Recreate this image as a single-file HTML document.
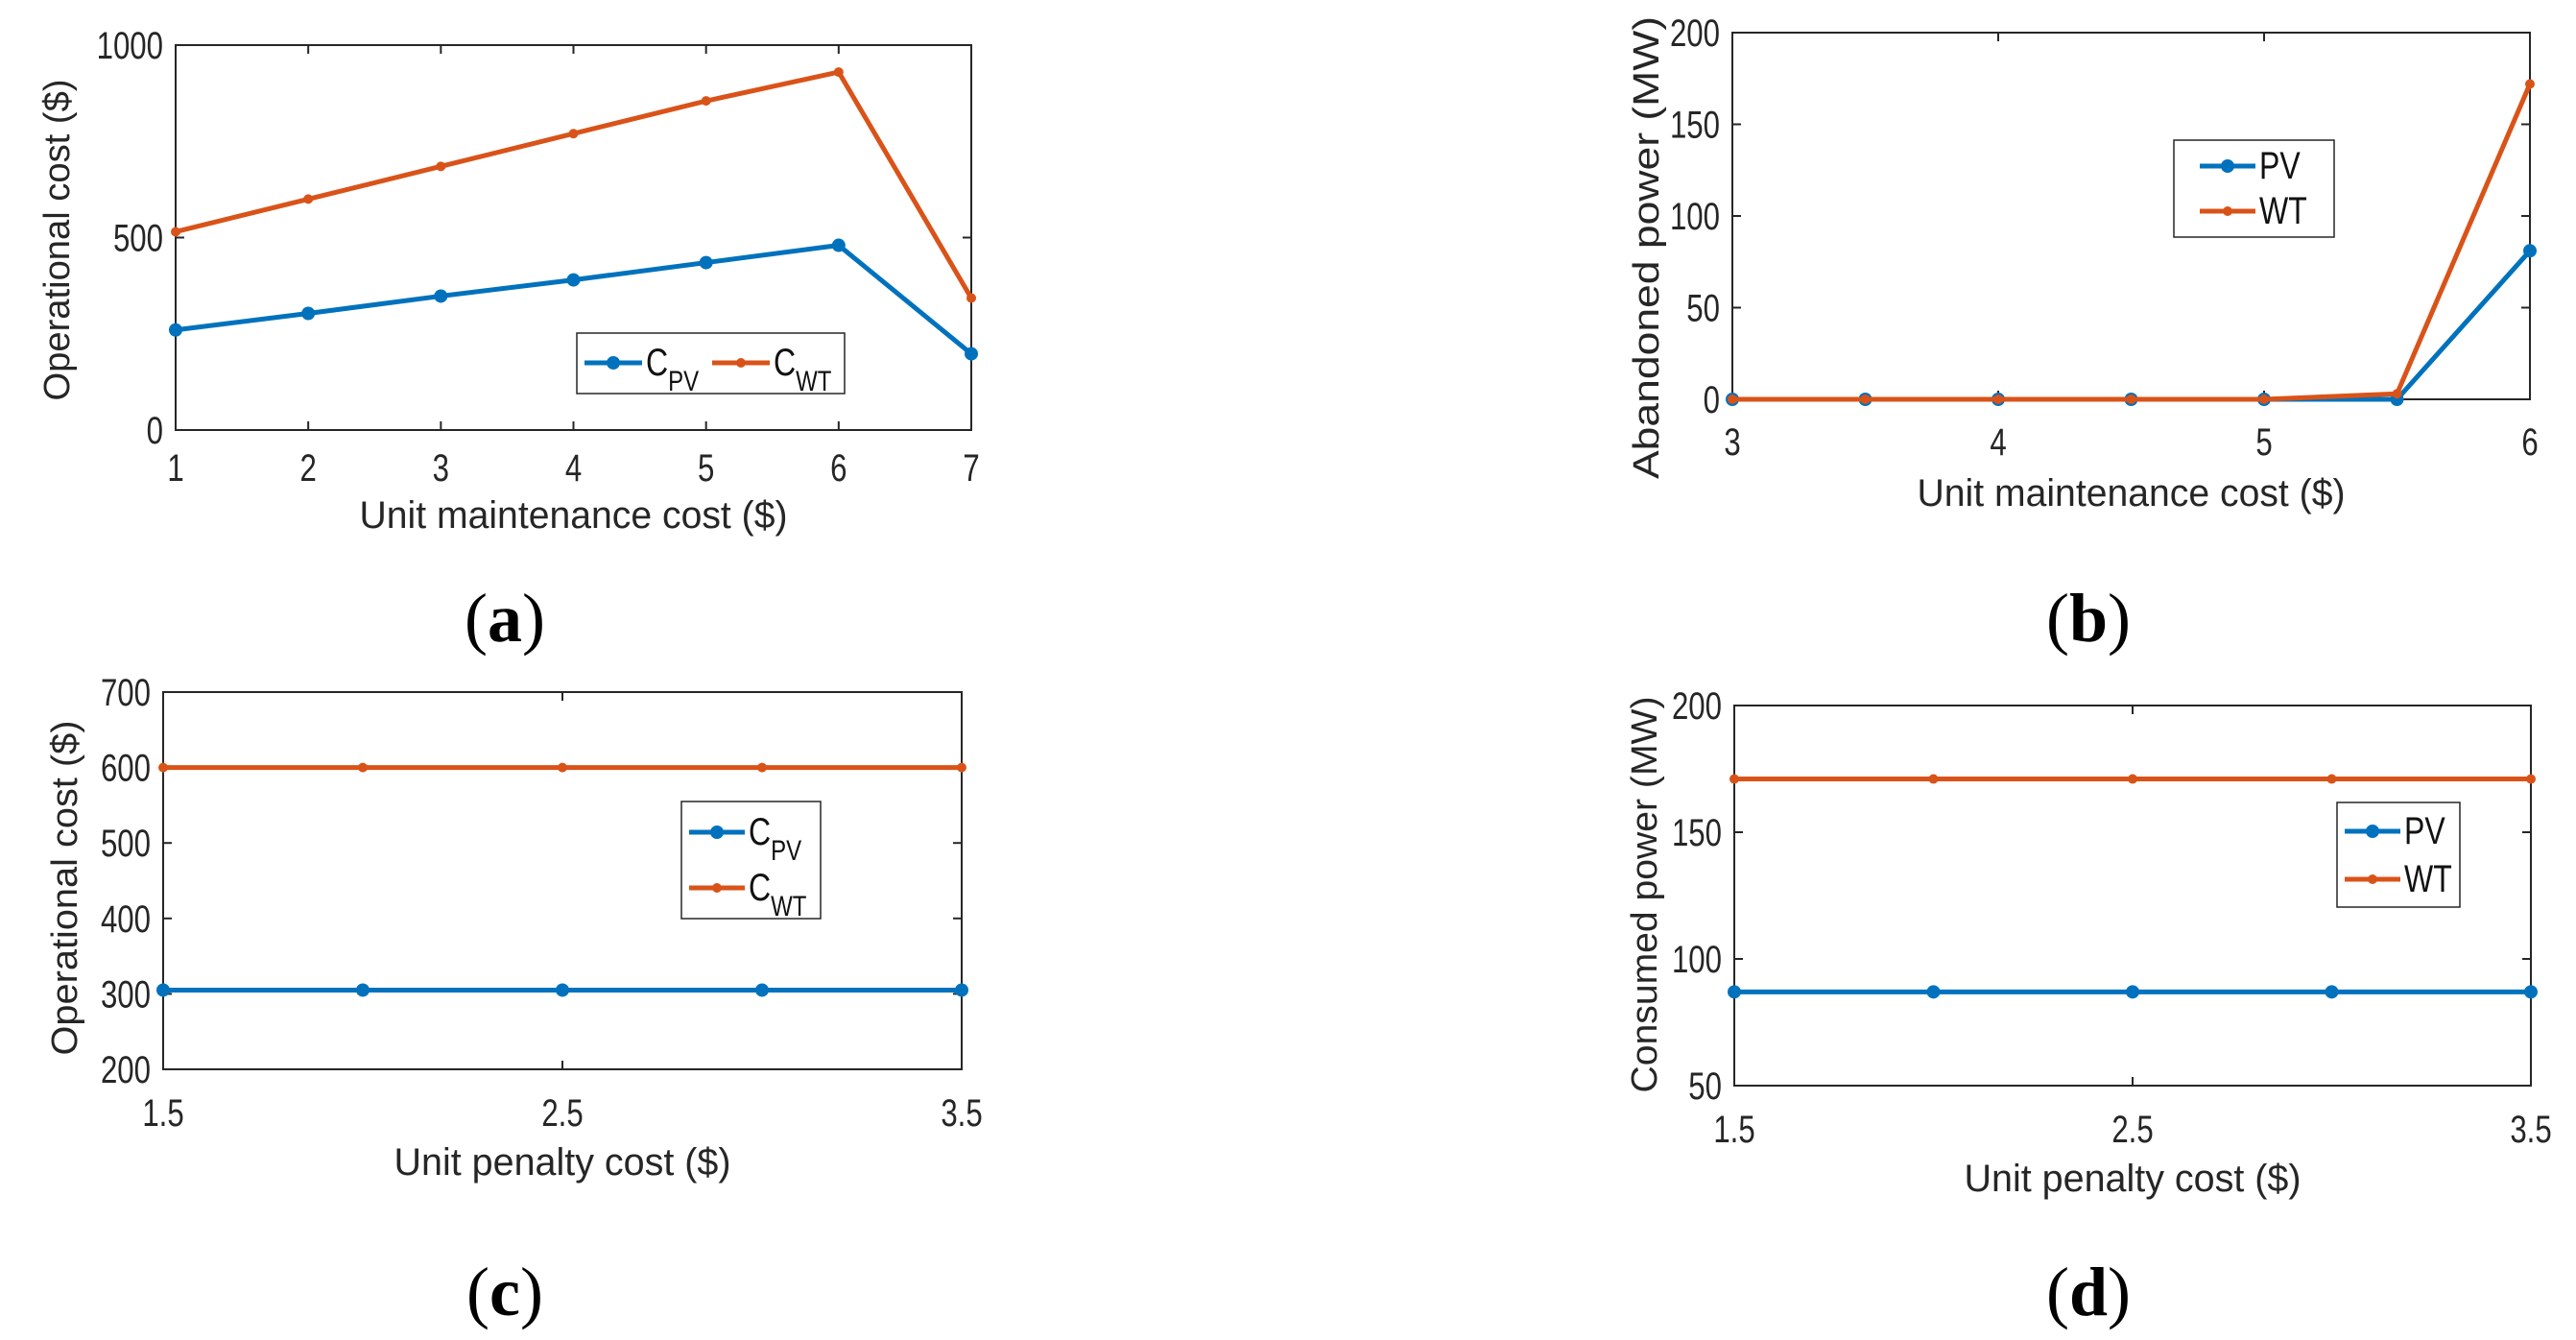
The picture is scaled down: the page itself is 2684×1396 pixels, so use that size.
<!DOCTYPE html>
<html><head><meta charset="utf-8"><style>
html,body{margin:0;padding:0;background:#fff;}
svg{display:block;font-family:"Liberation Sans",Arial,sans-serif;}
</style></head><body>
<svg id="fig" width="2684" height="1396" viewBox="0 0 2684 1396" xmlns="http://www.w3.org/2000/svg"></svg>
<script>
// Panel (a)
const aX = [1,2,3,4,5,6,7];
const aPV = [260,303,348,390,435,480,198];
const aWT = [515,600,685,770,855,930,343];
const aXTicks = [1,2,3,4,5,6,7];
const aYTicks = [0,500,1000];
// Panel (b)
const bX = [3,3.5,4,4.5,5,5.5,6];
const bPV = [0,0,0,0,0,0,81];
const bWT = [0,0,0,0,0,3,172];
const bXTicks = [3,4,5,6];
const bYTicks = [0,50,100,150,200];
// Panel (c)
const cX = [1.5,2,2.5,3,3.5];
const cPV = [305,305,305,305,305];
const cWT = [600,600,600,600,600];
const cXTicks = [1.5,2.5,3.5];
const cYTicks = [200,300,400,500,600,700];
// Panel (d)
const dX = [1.5,2,2.5,3,3.5];
const dPV = [87,87,87,87,87];
const dWT = [171,171,171,171,171];
const dXTicks = [1.5,2.5,3.5];
const dYTicks = [50,100,150,200];

const NS='http://www.w3.org/2000/svg';
const svg=document.getElementById('fig');
const BLUE='#0072BD', RED='#D95319';
function mk(tag,attrs,parent){const e=document.createElementNS(NS,tag);for(const k in attrs)e.setAttribute(k,attrs[k]);(parent||svg).appendChild(e);return e;}

function panel(cfg){
  const g=mk('g',{});
  
  
  const L=cfg.box[0],T=cfg.box[1],R=cfg.box[2],B=cfg.box[3];
  const sx=v=>L+(v-cfg.xr[0])/(cfg.xr[1]-cfg.xr[0])*(R-L);
  const sy=v=>B-(v-cfg.yr[0])/(cfg.yr[1]-cfg.yr[0])*(B-T);
  const box=mk('rect',{x:L,y:T,width:R-L,height:B-T,fill:'none',stroke:'#262626','stroke-width':2},g);
  
  
  cfg.xt.forEach(v=>{
    const x=sx(v);
    mk('line',{x1:x,y1:B,x2:x,y2:B-9,stroke:'#262626','stroke-width':2},g);
    mk('line',{x1:x,y1:T,x2:x,y2:T+9,stroke:'#262626','stroke-width':2},g);
    const t=mk('text',{x:0,y:0,'font-size':40,'text-anchor':'middle',fill:'#262626',transform:`translate(${x},${cfg.xtY+3}) scale(0.78,1)`},g);
    
    
    t.textContent=String(v);
  });
  cfg.yt.forEach(v=>{
    const y=sy(v);
    mk('line',{x1:L,y1:y,x2:L+9,y2:y,stroke:'#262626','stroke-width':2},g);
    mk('line',{x1:R,y1:y,x2:R-9,y2:y,stroke:'#262626','stroke-width':2},g);
    const t=mk('text',{x:0,y:0,'font-size':40,'text-anchor':'end',fill:'#262626',transform:`translate(${L-13},${y+14}) scale(0.78,1)`},g);
    
    
    t.textContent=String(v);
  });
  const xl=mk('text',{x:(L+R)/2-cfg.xlW/2,y:cfg.xlY,'font-size':40,fill:'#262626',textLength:cfg.xlW,lengthAdjust:'spacingAndGlyphs'},g);
  
  
  xl.textContent=cfg.xlabel;
  const yl=mk('text',{x:-cfg.ylW/2,y:0,'font-size':38,fill:'#262626',textLength:cfg.ylW,lengthAdjust:'spacingAndGlyphs',transform:`translate(${cfg.ylX},${cfg.ylC}) rotate(-90)`},g);
  
  
  yl.textContent=cfg.ylabel;
  [[cfg.pv,BLUE,'pv'],[cfg.wt,RED,'wt']].forEach(([vals,col,nm])=>{
    const pts=cfg.x.map((xv,i)=>sx(xv)+','+sy(vals[i])).join(' ');
    const pl=mk('polyline',{points:pts,fill:'none',stroke:col,'stroke-width':5,'stroke-linejoin':'round'},g);
    
    
    cfg.x.forEach((xv,i)=>{
      const m=mk('circle',{cx:sx(xv),cy:sy(vals[i]),r:nm==='pv'?5.5:3.5,fill:col,stroke:col,'stroke-width':3},g);
      
      
    });
  });
  const lg=cfg.leg;
  const lb=mk('g',{},g);
  
  
  mk('rect',{x:lg.x,y:lg.y,width:lg.w,height:lg.h,fill:'#fff',stroke:'#262626','stroke-width':1.5},lb);
  lg.items.forEach((it,i)=>{
    const e=mk('g',{},lb);
    
    
    mk('line',{x1:it.lx,y1:it.ly,x2:it.lx+it.len,y2:it.ly,stroke:it.col,'stroke-width':5},e);
    mk('circle',{cx:it.lx+it.len/2,cy:it.ly,r:it.key==='pv'?5.5:3.5,fill:it.col,stroke:it.col,'stroke-width':3},e);
    const t=mk('text',{x:0,y:0,'font-size':40,fill:'#111',transform:`translate(${it.lx+it.len+4},${it.ly+13}) scale(0.8,1)`},e);
    if(it.sub){
      t.textContent=it.label;
      const s=mk('tspan',{'font-size':30,dy:16},t);s.textContent=it.sub;
    } else t.textContent=it.label;
  });
  const cap=mk('text',{x:cfg.cap[0],y:cfg.cap[1],'font-size':72,'text-anchor':'middle','font-family':'"Liberation Serif",serif',fill:'#000'},g);
  
  
  cap.innerHTML='(<tspan font-weight="bold">'+cfg.id+'</tspan>)';
}

panel({id:'a',box:[183,47,1012,448],xr:[1,7],yr:[0,1000],x:aX,pv:aPV,wt:aWT,xt:aXTicks,yt:aYTicks,
  xtY:498,xlY:550,xlW:446,ylX:72,ylC:250,ylW:335,xlabel:'Unit maintenance cost ($)',ylabel:'Operational cost ($)',cap:[526,668],
  leg:{x:601,y:347,w:279,h:63,items:[
    {key:'pv',col:BLUE,lx:609,ly:378,len:60,label:'C',sub:'PV'},
    {key:'wt',col:RED,lx:742,ly:378,len:60,label:'C',sub:'WT'}]}});
panel({id:'b',box:[1805,34,2636,416],xr:[3,6],yr:[0,200],x:bX,pv:bPV,wt:bWT,xt:bXTicks,yt:bYTicks,
  xtY:471,xlY:527,xlW:446,ylX:1728,ylC:258,ylW:482,xlabel:'Unit maintenance cost ($)',ylabel:'Abandoned power (MW)',cap:[2176,668],
  leg:{x:2265,y:146,w:167,h:101,items:[
    {key:'pv',col:BLUE,lx:2292,ly:173,len:58,label:'PV'},
    {key:'wt',col:RED,lx:2292,ly:220,len:58,label:'WT'}]}});
panel({id:'c',box:[170,721,1002,1114],xr:[1.5,3.5],yr:[200,700],x:cX,pv:cPV,wt:cWT,xt:cXTicks,yt:cYTicks,
  xtY:1170,xlY:1224,xlW:351,ylX:80,ylC:925,ylW:349,xlabel:'Unit penalty cost ($)',ylabel:'Operational cost ($)',cap:[526,1370],
  leg:{x:710,y:835,w:145,h:122,items:[
    {key:'pv',col:BLUE,lx:718,ly:867,len:58,label:'C',sub:'PV'},
    {key:'wt',col:RED,lx:718,ly:925,len:58,label:'C',sub:'WT'}]}});
panel({id:'d',box:[1807,735,2637,1131],xr:[1.5,3.5],yr:[50,200],x:dX,pv:dPV,wt:dWT,xt:dXTicks,yt:dYTicks,
  xtY:1187,xlY:1241,xlW:351,ylX:1726,ylC:932,ylW:413,xlabel:'Unit penalty cost ($)',ylabel:'Consumed power (MW)',cap:[2176,1370],
  leg:{x:2435,y:836,w:128,h:109,items:[
    {key:'pv',col:BLUE,lx:2443,ly:866,len:58,label:'PV'},
    {key:'wt',col:RED,lx:2443,ly:916,len:58,label:'WT'}]}});
</script>
</body></html>
